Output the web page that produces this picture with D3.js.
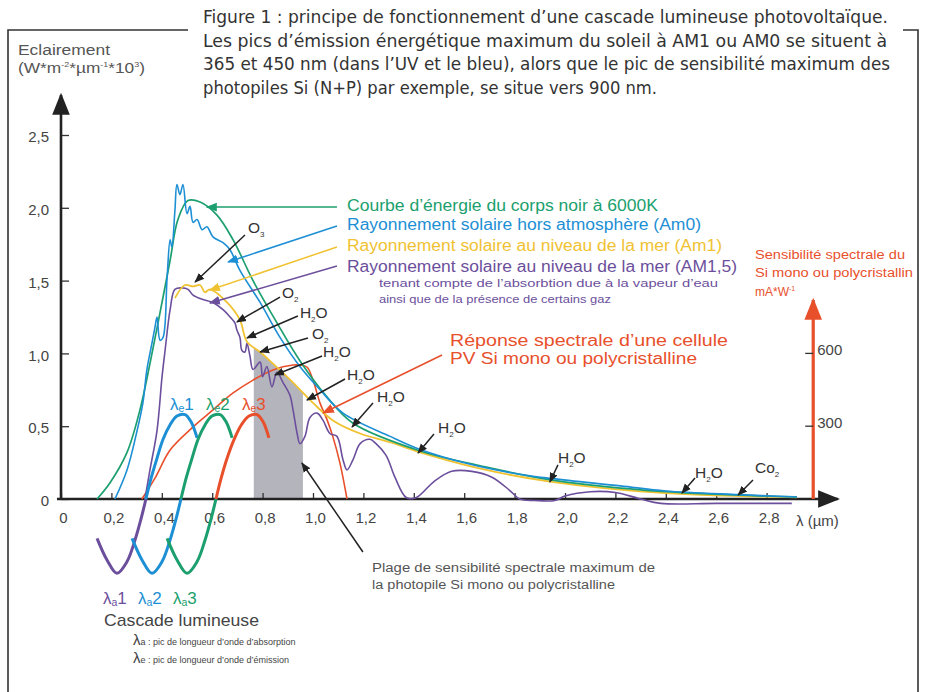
<!DOCTYPE html>
<html><head><meta charset="utf-8">
<script src="https://cdn.jsdelivr.net/npm/d3@7"></script>
<style>
body{margin:0;background:#fff;}
svg text{font-family:Arial,"Liberation Sans",Helvetica,sans-serif;}
.cap{font-family:"Liberation Sans Narrow","DejaVu Sans Condensed",Arial,sans-serif;font-stretch:condensed;}
</style></head><body>
<svg id="chart" width="933" height="692"></svg>
<script>
// ---- axis ticks ----
const xTicks = [0,0.2,0.4,0.6,0.8,1.0,1.2,1.4,1.6,1.8,2.0,2.2,2.4,2.6,2.8];
const xTickLabels = ["0","0,2","0,4","0,6","0,8","1,0","1,2","1,4","1,6","1,8","2,0","2,2","2,4","2,6","2,8"];
const yTicks = [0,0.5,1.0,1.5,2.0,2.5];
const yTickLabels = ["0","0,5","1,0","1,5","2,0","2,5"];
const rTicks = [300,600];
const rTickLabels = ["300","600"];

// ---- spectra: [wavelength µm, irradiance W·m-2·µm-1·10^3] ----
const blackBody6000 = [[0.143,0],[0.194,0.11],[0.262,0.32],[0.313,0.61],[0.353,0.93],[0.393,1.28],[0.433,1.64],[0.464,1.92],[0.504,2.05],[0.552,2.04],[0.619,1.95],[0.683,1.78],[0.762,1.50],[0.857,1.21],[0.948,0.95],[1.056,0.70],[1.159,0.52],[1.425,0.33],[1.66,0.23],[1.95,0.13],[2.40,0.05],[2.92,0.014]];
const am0 = [[0.214,0],[0.262,0.20],[0.302,0.47],[0.325,0.66],[0.341,0.89],[0.361,1.07],[0.373,1.18],[0.381,1.25],[0.393,1.09],[0.405,1.11],[0.421,1.52],[0.433,1.78],[0.440,1.73],[0.452,1.98],[0.460,2.16],[0.472,2.09],[0.484,2.16],[0.500,1.96],[0.512,2.01],[0.524,1.90],[0.540,1.92],[0.560,1.85],[0.579,1.87],[0.603,1.80],[0.643,1.76],[0.671,1.71],[0.710,1.57],[0.790,1.35],[0.869,1.11],[0.948,0.91],[1.028,0.75],[1.119,0.59],[1.306,0.43],[1.425,0.34],[1.62,0.24],[1.82,0.17],[1.95,0.14],[2.22,0.09],[2.40,0.055],[2.69,0.03],[2.92,0.014]];
const am1 = [[0.452,1.38],[0.492,1.47],[0.524,1.46],[0.552,1.47],[0.571,1.42],[0.591,1.44],[0.659,1.35],[0.710,1.23],[0.738,1.08],[0.790,1.01],[0.841,0.93],[0.921,0.80],[1.0,0.66],[1.079,0.54],[1.187,0.45],[1.306,0.39],[1.425,0.32],[1.66,0.21],[1.94,0.12],[2.40,0.04],[2.92,0.012]];
const am15 = [[0.333,0],[0.353,0.20],[0.381,0.47],[0.401,0.84],[0.413,1.02],[0.433,1.30],[0.452,1.44],[0.480,1.45],[0.504,1.44],[0.524,1.40],[0.563,1.37],[0.603,1.35],[0.643,1.30],[0.671,1.25],[0.690,1.21],[0.698,1.16],[0.710,1.11],[0.718,1.02],[0.730,1.01],[0.738,1.07],[0.750,0.98],[0.762,0.89],[0.790,0.94],[0.800,0.84],[0.817,0.91],[0.837,0.77],[0.857,0.87],[0.881,0.80],[0.909,0.71],[0.921,0.61],[0.937,0.45],[0.948,0.38],[0.968,0.43],[0.988,0.56],[1.016,0.59],[1.040,0.54],[1.067,0.45],[1.095,0.43],[1.119,0.27],[1.135,0.20],[1.159,0.27],[1.187,0.38],[1.226,0.41],[1.250,0.38],[1.29,0.30],[1.325,0.15],[1.37,0.01],[1.41,0.01],[1.48,0.12],[1.55,0.19],[1.63,0.19],[1.71,0.15],[1.78,0.06],[1.82,0.0],[1.88,-0.01],[1.96,-0.01],[2.0,0.02],[2.1,0.05],[2.2,0.045],[2.3,0.0],[2.38,-0.03],[2.6,-0.03],[2.9,-0.03]];

// ---- Si cell spectral response, mA/W ----
const siResponse = [[0.321,0],[0.373,86],[0.433,202],[0.524,297],[0.603,367],[0.683,437],[0.762,490],[0.841,532],[0.921,552],[0.948,552],[0.976,544],[1.0,490],[1.028,395],[1.056,326],[1.079,256],[1.107,148],[1.135,0]];

// ---- light cascade: absorption (below axis) then emission (above) ----
const cell1Abs = [[0.143,-0.27],[0.183,-0.42],[0.222,-0.51],[0.262,-0.43],[0.294,-0.28],[0.317,-0.14],[0.337,0]];
const cell1Emi = [[0.337,0],[0.357,0.14],[0.381,0.28],[0.405,0.41],[0.433,0.51],[0.460,0.57],[0.492,0.58],[0.516,0.53],[0.540,0.42]];
const cell2Abs = [[0.282,-0.27],[0.322,-0.42],[0.361,-0.51],[0.401,-0.43],[0.433,-0.28],[0.456,-0.14],[0.476,0]];
const cell2Emi = [[0.476,0],[0.496,0.14],[0.520,0.28],[0.544,0.41],[0.572,0.51],[0.599,0.57],[0.631,0.58],[0.655,0.53],[0.679,0.42]];
const cell3Abs = [[0.421,-0.27],[0.461,-0.42],[0.500,-0.51],[0.540,-0.43],[0.572,-0.28],[0.595,-0.14],[0.615,0]];
const cell3Emi = [[0.615,0],[0.635,0.14],[0.659,0.28],[0.687,0.41],[0.716,0.51],[0.746,0.57],[0.778,0.58],[0.802,0.53],[0.825,0.42]];

// maximum sensitivity range of the Si photocell (µm)
const siBand = [0.765,0.96];

const C = {green:"#1c9f6e",blue:"#1d8fd4",yellow:"#f0c232",purple:"#6c4f9c",red:"#e8502c",band:"#b4b4bc",ink:"#222",grey:"#555"};

const svg = d3.select("#chart");
const x = d3.scaleLinear().domain([0,1]).range([61,313]);
const y = d3.scaleLinear().domain([0,1]).range([499,353.4]);
const yR = d3.scaleLinear().domain([0,600]).range([499,353.4]);

// arrow markers
const defs = svg.append("defs");
function marker(id,color,size){
  defs.append("marker").attr("id",id).attr("viewBox","0 0 10 10").attr("refX",9).attr("refY",5)
    .attr("markerWidth",size).attr("markerHeight",size).attr("markerUnits","userSpaceOnUse").attr("orient","auto")
    .append("path").attr("d","M0,1 L10,5 L0,9 z").attr("fill",color);
}
marker("aInk",C.ink,10); marker("aGreen",C.green,11); marker("aBlue",C.blue,11);
marker("aYellow",C.yellow,11); marker("aPurple",C.purple,11); marker("aRed",C.red,12);
marker("aAxis","#222",22); marker("aAxisR",C.red,22);

// frame
svg.append("path").attr("d","M188,30 H8 V692").attr("fill","none").attr("stroke","#333").attr("stroke-width",1.6);
svg.append("path").attr("d","M903,30 H918 V692").attr("fill","none").attr("stroke","#333").attr("stroke-width",1.6);

// caption
const caption = [
  ["Figure 1 : principe de fonctionnement d\u2019une cascade lumineuse photovolta\u00efque.",685],
  ["Les pics d\u2019\u00e9mission \u00e9nerg\u00e9tique maximum du soleil \u00e0 AM1 ou AM0 se situent \u00e0",684],
  ["365 et 450 nm (dans l\u2019UV et le bleu), alors que le pic de sensibilit\u00e9 maximum des",687],
  ["photopiles Si (N+P) par exemple, se situe vers 900 nm.",454]];
caption.forEach((c,i)=>{
  svg.append("text").attr("class","cap").attr("x",203).attr("y",23+i*23.7).attr("font-size",17.5)
    .attr("fill","#333").attr("textLength",c[1]).attr("lengthAdjust","spacingAndGlyphs").text(c[0]);
});

// grey band under the AM1 curve
const clip = defs.append("clipPath").attr("id","bandClip");
clip.append("rect").attr("x",x(siBand[0])).attr("width",x(siBand[1])-x(siBand[0])).attr("y",0).attr("height",692);
const area = d3.area().x(d=>x(d[0])).y0(y(0)).y1(d=>y(d[1])).curve(d3.curveCatmullRom);
svg.append("path").datum(am1).attr("d",area).attr("fill",C.band).attr("clip-path","url(#bandClip)");

// axes
const xAxis = d3.axisBottom(x).tickValues(xTicks).tickFormat((d,i)=>xTickLabels[i]).tickSizeInner(-6).tickSizeOuter(0).tickPadding(13);
const gx = svg.append("g").attr("transform",`translate(0,${y(0)})`).call(xAxis);
gx.select(".domain").remove();
gx.selectAll("line").attr("stroke","#333").attr("stroke-width",1.3);
gx.selectAll("text").attr("font-size",15).attr("fill","#444").attr("dx",2);

const yAxis = d3.axisLeft(y).tickValues(yTicks).tickFormat((d,i)=>yTickLabels[i]).tickSizeInner(-8).tickSizeOuter(0).tickPadding(12);
const gy = svg.append("g").attr("transform",`translate(${x(0)},0)`).call(yAxis);
gy.select(".domain").remove();
gy.selectAll("line").attr("stroke","#333").attr("stroke-width",1.3);
gy.selectAll("text").attr("font-size",15).attr("fill","#444").attr("dy","0.45em");

svg.append("line").attr("x1",x(-0.016)).attr("x2",x(3.083)).attr("y1",y(0)).attr("y2",y(0))
  .attr("stroke","#222").attr("stroke-width",2.6).attr("marker-end","url(#aAxis)");
svg.append("line").attr("x1",x(0)).attr("x2",x(0)).attr("y1",y(0)+1).attr("y2",y(2.775))
  .attr("stroke","#222").attr("stroke-width",2.6).attr("marker-end","url(#aAxis)");

svg.append("text").attr("x",18).attr("y",55).attr("font-size",15.5).attr("fill",C.grey)
  .attr("textLength",92).attr("lengthAdjust","spacingAndGlyphs").text("Eclairement");
const yt = svg.append("text").attr("x",18).attr("y",73).attr("font-size",15.5).attr("fill",C.grey)
  .attr("textLength",127).attr("lengthAdjust","spacingAndGlyphs");
yt.append("tspan").text("(W*m");
yt.append("tspan").attr("font-size",8).attr("dy",-6).text("-2");
yt.append("tspan").attr("dy",6).text("*\u00b5m");
yt.append("tspan").attr("font-size",8).attr("dy",-6).text("-1");
yt.append("tspan").attr("dy",6).text("*10");
yt.append("tspan").attr("font-size",8).attr("dy",-6).text("3");
yt.append("tspan").attr("dy",6).text(")");
svg.append("text").attr("x",796).attr("y",526).attr("font-size",15).attr("fill","#444").text("\u03bb (\u00b5m)");

// right axis: spectral sensitivity (mA/W)
const rX = x(2.985);
svg.append("line").attr("x1",rX).attr("x2",rX).attr("y1",yR(0)).attr("y2",yR(820))
  .attr("stroke",C.red).attr("stroke-width",3.2).attr("marker-end","url(#aAxisR)");
rTicks.forEach((t,i)=>{
  svg.append("line").attr("x1",rX-8).attr("x2",rX).attr("y1",yR(t)).attr("y2",yR(t)).attr("stroke","#333").attr("stroke-width",1.3);
  svg.append("text").attr("x",rX+4).attr("y",yR(t)+2).attr("font-size",15).attr("fill","#444").text(rTickLabels[i]);
});
[["Sensibilit\u00e9 spectrale du",150,259],["Si mono ou polycristallin",158,277]].forEach(t=>{
  svg.append("text").attr("x",755).attr("y",t[2]).attr("font-size",12).attr("fill",C.red)
    .attr("textLength",t[1]).attr("lengthAdjust","spacingAndGlyphs").text(t[0]);
});
const mu = svg.append("text").attr("x",755).attr("y",296).attr("font-size",12).attr("fill",C.red);
mu.append("tspan").text("mA*W");
mu.append("tspan").attr("font-size",7).attr("dy",-5).text("-1");

// curves
const line = d3.line().x(d=>x(d[0])).y(d=>y(d[1])).curve(d3.curveCatmullRom.alpha(0.5));
const lineR = d3.line().x(d=>x(d[0])).y(d=>yR(d[1])).curve(d3.curveCatmullRom.alpha(0.5));
function draw(data,color,w,gen){ svg.append("path").datum(data).attr("d",(gen||line)).attr("fill","none").attr("stroke",color).attr("stroke-width",w).attr("stroke-linejoin","round"); }

draw(siResponse,C.red,1.6,lineR);
draw(am15,C.purple,1.6);
draw(am1,C.yellow,1.8);
draw(blackBody6000,C.green,1.7);
draw(am0,C.blue,1.6);

draw(cell1Abs,C.purple,3); draw(cell1Emi,C.blue,3);
draw(cell2Abs,C.blue,3); draw(cell2Emi,C.green,3);
draw(cell3Abs,C.green,3); draw(cell3Emi,C.red,3);

// legend with pointers
const legend = [
  {t:"Courbe d\u2019\u00e9nergie du corps noir \u00e0 6000K",c:C.green,m:"aGreen",y:210.5,w:311,from:[1.095,2.005],to:[0.579,2.005]},
  {t:"Rayonnement solaire hors atmosph\u00e8re (Am0)",c:C.blue,m:"aBlue",y:229.5,w:354,from:[1.095,1.875],to:[0.663,1.628]},
  {t:"Rayonnement solaire au niveau de la mer (Am1)",c:C.yellow,m:"aYellow",y:250.5,w:375,from:[1.095,1.731],to:[0.591,1.435]},
  {t:"Rayonnement solaire au niveau de la mer (AM1,5)",c:C.purple,m:"aPurple",y:271.5,w:390,from:[1.095,1.600],to:[0.591,1.346]}];
legend.forEach(l=>{
  svg.append("line").attr("x1",x(l.from[0])).attr("y1",y(l.from[1])).attr("x2",x(l.to[0])).attr("y2",y(l.to[1]))
    .attr("stroke",l.c).attr("stroke-width",1.5).attr("marker-end",`url(#${l.m})`);
  svg.append("text").attr("x",347).attr("y",l.y).attr("font-size",16).attr("fill",l.c)
    .attr("textLength",l.w).attr("lengthAdjust","spacingAndGlyphs").text(l.t);
});
[["tenant compte de l\u2019absorbtion due \u00e0 la vapeur d\u2019eau",287,339],["ainsi que de la pr\u00e9sence de certains gaz",303,232]].forEach(t=>{
  svg.append("text").attr("x",379).attr("y",t[1]).attr("font-size",11.5).attr("fill",C.purple)
    .attr("textLength",t[2]).attr("lengthAdjust","spacingAndGlyphs").text(t[0]);
});

// absorption annotations
const notes = [
  {m:"O",s:"3",e:"",at:[0.742,1.868],from:[0.730,1.813],to:[0.532,1.490]},
  {m:"O",s:"2",e:"",at:[0.877,1.415],from:[0.869,1.387],to:[0.698,1.216]},
  {m:"H",s:"2",e:"O",at:[0.948,1.284],from:[0.940,1.257],to:[0.738,1.106]},
  {m:"O",s:"2",e:"",at:[0.996,1.140],from:[0.980,1.106],to:[0.790,1.010]},
  {m:"H",s:"2",e:"O",at:[1.040,1.010],from:[1.036,0.982],to:[0.849,0.852]},
  {m:"H",s:"2",e:"O",at:[1.135,0.852],from:[1.127,0.824],to:[0.976,0.680]},
  {m:"H",s:"2",e:"O",at:[1.254,0.701],from:[1.238,0.659],to:[1.155,0.495]},
  {m:"H",s:"2",e:"O",at:[1.496,0.488],from:[1.480,0.446],to:[1.417,0.316]},
  {m:"H",s:"2",e:"O",at:[1.972,0.288],from:[1.972,0.234],to:[1.940,0.117]},
  {m:"H",s:"2",e:"O",at:[2.516,0.185],from:[2.516,0.144],to:[2.464,0.041]},
  {m:"Co",s:"2",e:"",at:[2.754,0.213],from:[2.746,0.130],to:[2.687,0.027]}];
notes.forEach(n=>{
  svg.append("line").attr("x1",x(n.from[0])).attr("y1",y(n.from[1])).attr("x2",x(n.to[0])).attr("y2",y(n.to[1]))
    .attr("stroke",C.ink).attr("stroke-width",1.5).attr("marker-end","url(#aInk)");
  const t = svg.append("text").attr("x",x(n.at[0])).attr("y",y(n.at[1])+5.5).attr("font-size",15.5).attr("fill","#333");
  t.append("tspan").text(n.m);
  t.append("tspan").attr("font-size",8).attr("dy",4).text(n.s);
  if(n.e) t.append("tspan").attr("dy",-4).text(n.e);
});

// Si response annotation
svg.append("line").attr("x1",x(1.512)).attr("y1",y(0.989)).attr("x2",x(1.040)).attr("y2",y(0.591))
  .attr("stroke",C.red).attr("stroke-width",1.6).attr("marker-end","url(#aRed)");
[["R\u00e9ponse spectrale d\u2019une cellule",345.5,278],["PV Si mono ou polycristalline",363.5,247]].forEach(t=>{
  svg.append("text").attr("x",450).attr("y",t[1]).attr("font-size",16).attr("fill",C.red)
    .attr("textLength",t[2]).attr("lengthAdjust","spacingAndGlyphs").text(t[0]);
});

// band annotation
svg.append("line").attr("x1",x(1.198)).attr("y1",y(-0.364)).attr("x2",x(0.956)).attr("y2",y(0.247))
  .attr("stroke",C.ink).attr("stroke-width",1.5).attr("marker-end","url(#aInk)");
[["Plage de sensibilit\u00e9  spectrale maximum de",572,283],["la photopile Si mono ou polycristalline",589,243]].forEach(t=>{
  svg.append("text").attr("x",372).attr("y",t[1]).attr("font-size",12).attr("fill",C.grey)
    .attr("textLength",t[2]).attr("lengthAdjust","spacingAndGlyphs").text(t[0]);
});

// cascade labels
function lam(px,py,sub,num,color,size){
  const t = svg.append("text").attr("x",px).attr("y",py).attr("font-size",size).attr("fill",color);
  t.append("tspan").text("\u03bb");
  t.append("tspan").attr("font-size",size*0.62).attr("dy",size*0.12).text(sub);
  t.append("tspan").attr("dy",-size*0.12).text(num);
  return t;
}
lam(170,410,"e","1",C.blue,17); lam(206,410,"e","2",C.green,17); lam(242,410,"e","3",C.red,17);
lam(103,604,"a","1",C.purple,17); lam(138,604,"a","2",C.blue,17); lam(173,604,"a","3",C.green,17);
svg.append("text").attr("x",104).attr("y",626).attr("font-size",17).attr("fill","#444")
  .attr("textLength",155).attr("lengthAdjust","spacingAndGlyphs").text("Cascade lumineuse");
[["a"," : pic de longueur d\u2019onde d\u2019absorption",645],["e"," : pic de longueur d\u2019onde d\u2019\u00e9mission",663]].forEach(r=>{
  const t = svg.append("text").attr("x",133).attr("y",r[2]).attr("fill","#444");
  t.append("tspan").attr("font-size",15).text("\u03bb");
  t.append("tspan").attr("font-size",9).text(r[0]);
  t.append("tspan").attr("font-size",9).text(r[1]);
});
</script></body></html>
